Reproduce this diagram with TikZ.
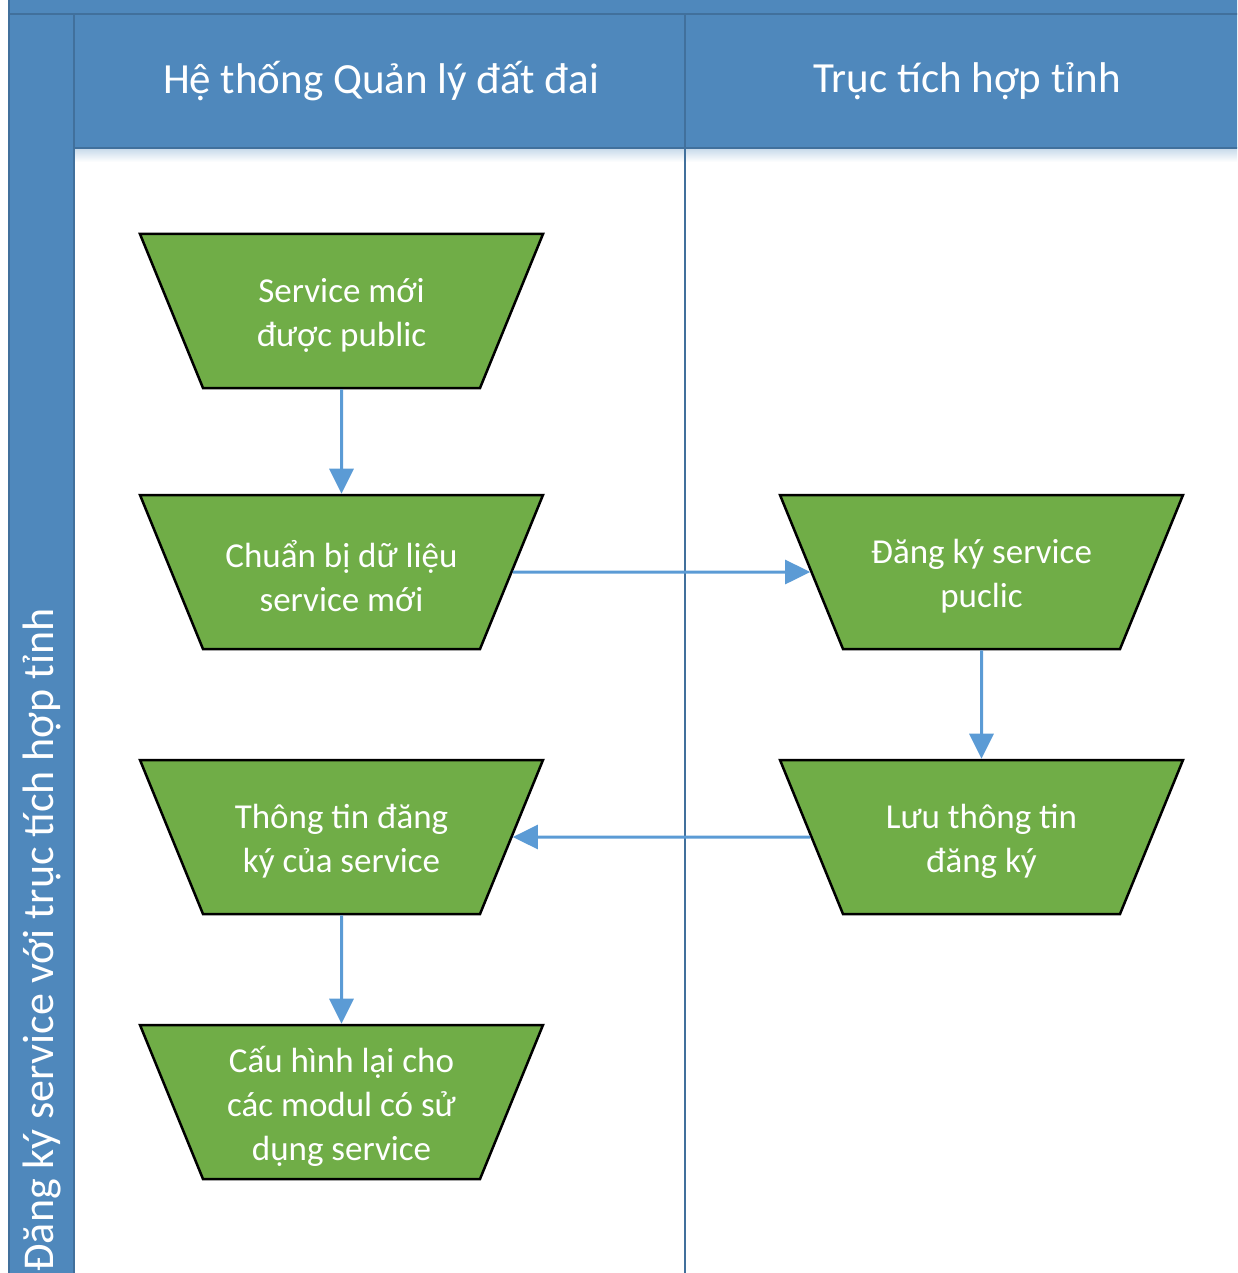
\documentclass[tikz,border=0pt]{standalone}
\usepackage{fontspec}
\setmainfont{Carlito}
\usetikzlibrary{shapes.geometric, arrows.meta, positioning}

\definecolor{laneblue}{RGB}{79,136,188}
\definecolor{laneline}{RGB}{65,112,156}
\definecolor{taskgreen}{RGB}{112,173,71}
\definecolor{flowblue}{RGB}{91,155,213}

\begin{document}
\begin{tikzpicture} [x=1pt, y=-1pt,
            node distance = 265pt,
            on grid,
            task/.style = {trapezium, shape border rotate=180,
                trapezium angle=67.75, inner sep=0pt,
                fill=taskgreen, draw=black, line width=2.5pt,
                text=white,
                font=\fontsize{35}{44}\selectfont,
                execute at begin node={\begin{minipage}[c][154pt][c]{277pt}\centering\vspace*{8pt}},
                execute at end node={\end{minipage}}},
            lanetext/.style = {text=white, font=\fontsize{43}{51}\selectfont},
            flow/.style = {flowblue, line width=3pt,
                -{Triangle[length=25pt, width=24pt]}}]

        \useasboundingbox (0,0) rectangle (1237,1273);
        \clip (0,0) rectangle (1237,1273);

        % Pool and lanes
        \fill [laneblue] (9,-10) rectangle (1260,148);
        \fill [laneblue] (9,14) rectangle (74,1290);
        \shade [top color=laneblue!30, bottom color=white] (74,149) rectangle (1260,162);
        \draw [laneline, line width=2pt]
            (9,-10) -- (9,1290)
            (74,14) -- (74,1290)
            (9,14) -- (1260,14)
            (74,148) -- (1260,148)
            (685,14) -- (685,1290);

        % Lane titles
        \node (laneA) [lanetext] at (381,81) {Hệ thống Quản lý đất đai};
        \node (laneB) [lanetext] at (967,81) {Trục tích hợp tỉnh};
        \node (pool) [lanetext, rotate=90, font=\fontsize{44}{52}\selectfont]
            at (42,940) {Đăng ký service với trục tích hợp tỉnh};

        % Step 1
        \node (s1) [task] at (341.5,311) {Service mới\\được public};

        % Step 2
        \node (s2) [task,
            below = 261pt of s1] {Chuẩn bị dữ liệu\\service mới};

        % Step 3
        \node (s3) [task,
            below = of s2] {Thông tin đăng\\ký của service};

        % Step 4
        \node (s4) [task,
            below = of s3] {Cấu hình lại cho\\các modul có sử\\dụng service};

        % Register
        \node (r1) [task,
            right = 640pt of s2] {Đăng ký service\\puclic};

        % Store
        \node (r2) [task,
            right = 640pt of s3] {Lưu thông tin\\đăng ký};

        % Arrows
        \path [flow]
            (s1) edge (s2)
            (s2) edge (r1)
            (r1) edge (r2)
            (r2) edge (s3)
            (s3) edge (s4)
            ;
        \end{tikzpicture}
\end{document}
